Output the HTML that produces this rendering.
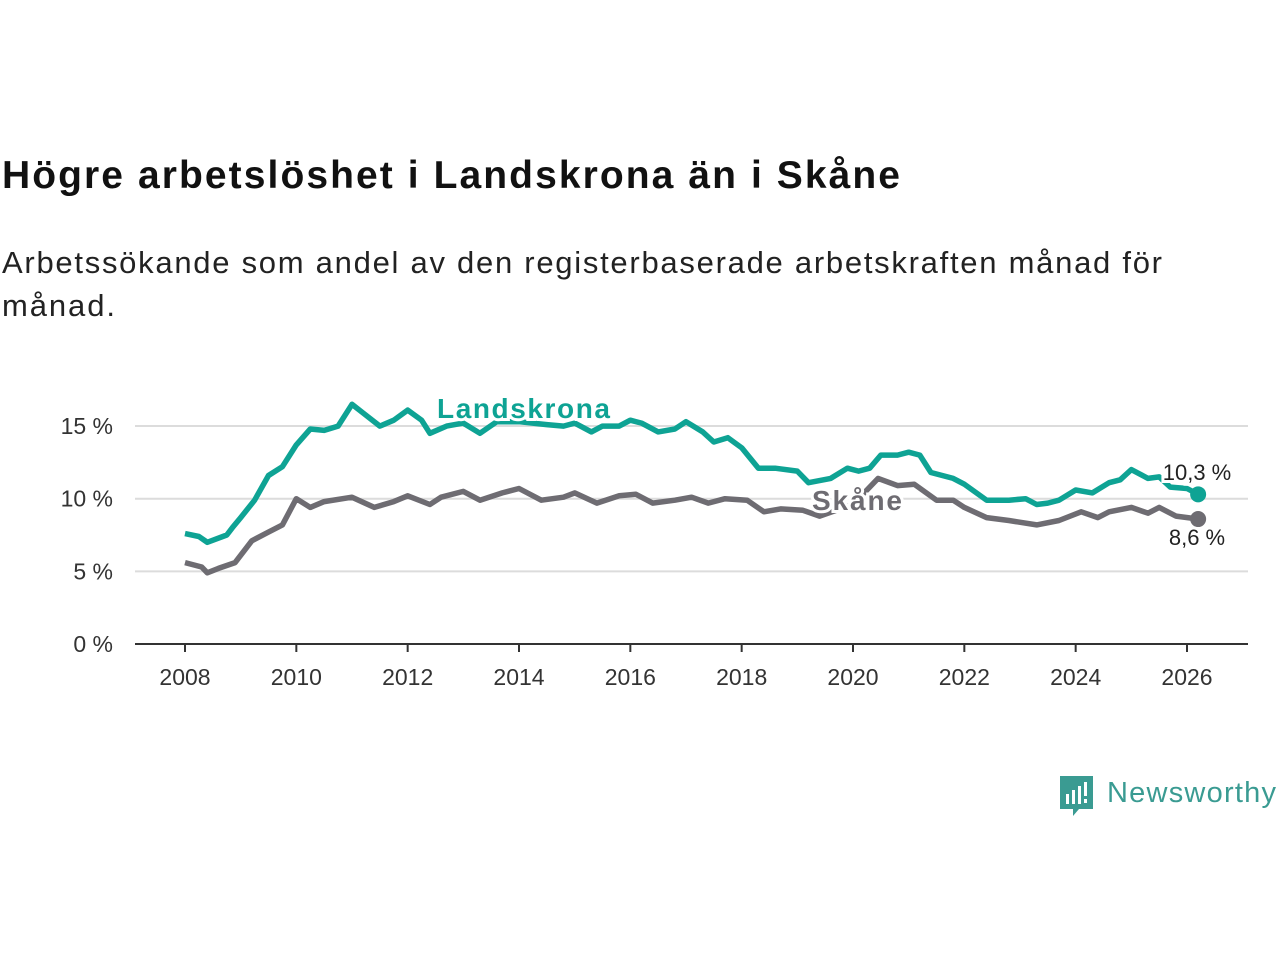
<!DOCTYPE html>
<html><head><meta charset="utf-8"><style>body{margin:0;background:#fff}svg{display:block;font-family:"Liberation Sans",sans-serif}</style></head>
<body>
<svg width="1280" height="960">
<text x="2" y="188" font-size="39" font-weight="bold" fill="#111" textLength="898">Högre arbetslöshet i Landskrona än i Skåne</text>
<text x="2" y="273" font-size="31" fill="#222" textLength="1160">Arbetssökande som andel av den registerbaserade arbetskraften månad för</text>
<text x="2" y="316" font-size="31" fill="#222" textLength="113">månad.</text>
<g id="grid"></g><g id="axis"></g><g id="lines"></g><g id="labels"></g>
<g>
<path d="M1060 776h33v33h-14l-6 7v-7h-13z" fill="#3a9b92"/>
<rect x="1066" y="794" width="3" height="10" fill="#fff"/><rect x="1072" y="790" width="3" height="14" fill="#fff"/><rect x="1078" y="786" width="3" height="18" fill="#fff"/><rect x="1084" y="782" width="3" height="14" fill="#fff"/><rect x="1084" y="799" width="3" height="4" fill="#fff"/>
<text x="1107" y="802" font-size="29" fill="#3a9b92" textLength="169">Newsworthy</text>
</g>
</svg>
<script>
const yTicks=[0,5,10,15];
const xTicks=[2008,2010,2012,2014,2016,2018,2020,2022,2024,2026];
const landT=[2008,2008.25,2008.4,2008.75,2008.85,2009.0,2009.25,2009.5,2009.75,2010.0,2010.25,2010.5,2010.75,2011.0,2011.2,2011.5,2011.75,2012.0,2012.25,2012.4,2012.7,2013.0,2013.3,2013.6,2014.0,2014.5,2014.8,2015.0,2015.3,2015.5,2015.8,2016.0,2016.2,2016.5,2016.8,2017.0,2017.3,2017.5,2017.75,2018.0,2018.3,2018.6,2019.0,2019.2,2019.6,2019.9,2020.1,2020.3,2020.5,2020.8,2021.0,2021.2,2021.4,2021.8,2022.0,2022.4,2022.8,2023.1,2023.3,2023.5,2023.7,2024.0,2024.3,2024.6,2024.8,2025.0,2025.3,2025.5,2025.7,2026.0,2026.2];
const landV=[7.6,7.4,7.0,7.5,8.0,8.7,9.9,11.6,12.2,13.7,14.8,14.7,15.0,16.5,15.9,15.0,15.4,16.1,15.4,14.5,15.0,15.2,14.5,15.3,15.3,15.1,15.0,15.2,14.6,15.0,15.0,15.4,15.2,14.6,14.8,15.3,14.6,13.9,14.2,13.5,12.1,12.1,11.9,11.1,11.4,12.1,11.9,12.1,13.0,13.0,13.2,13.0,11.8,11.4,11.0,9.9,9.9,10.0,9.6,9.7,9.9,10.6,10.4,11.1,11.3,12.0,11.4,11.5,10.8,10.7,10.3];
const skT=[2008,2008.3,2008.4,2008.6,2008.9,2009.2,2009.5,2009.75,2010.0,2010.25,2010.5,2011.0,2011.4,2011.75,2012.0,2012.4,2012.6,2013.0,2013.3,2013.7,2014.0,2014.4,2014.8,2015.0,2015.4,2015.8,2016.1,2016.4,2016.8,2017.1,2017.4,2017.7,2018.1,2018.4,2018.7,2019.1,2019.4,2019.7,2020.0,2020.45,2020.8,2021.1,2021.5,2021.8,2022.0,2022.4,2022.8,2023.3,2023.7,2024.1,2024.4,2024.6,2025.0,2025.3,2025.5,2025.8,2026.2];
const skV=[5.6,5.3,4.9,5.2,5.6,7.1,7.7,8.2,10.0,9.4,9.8,10.1,9.4,9.8,10.2,9.6,10.1,10.5,9.9,10.4,10.7,9.9,10.1,10.4,9.7,10.2,10.3,9.7,9.9,10.1,9.7,10.0,9.9,9.1,9.3,9.2,8.8,9.2,9.6,11.4,10.9,11.0,9.9,9.9,9.4,8.7,8.5,8.2,8.5,9.1,8.7,9.1,9.4,9.0,9.4,8.8,8.6];
const NS='http://www.w3.org/2000/svg';
const X=t=>185+(t-2008)*(1002/18), Y=v=>644-v*14.53;
function mk(tag,attrs,parent,txt){const e=document.createElementNS(NS,tag);for(const k in attrs)e.setAttribute(k,attrs[k]);if(txt!=null)e.textContent=txt;document.getElementById(parent).appendChild(e);return e;}
yTicks.forEach(v=>{
 if(v>0){const g=mk('line',{x1:135,x2:1248,y1:Y(v),y2:Y(v),stroke:'#dcdcdc','stroke-width':2},'grid');
 
 }
 const t=mk('text',{x:113,y:Y(v)+8,'font-size':23,'text-anchor':'end',fill:'#333'},'axis',v+' %');
 
 
});
const ax=mk('line',{x1:135,x2:1248,y1:644,y2:644,stroke:'#333','stroke-width':2},'axis');


xTicks.forEach(t=>{
 mk('line',{x1:X(t),x2:X(t),y1:644,y2:652,stroke:'#333','stroke-width':2},'axis');
 const l=mk('text',{x:X(t),y:685,'font-size':23,'text-anchor':'middle',fill:'#333'},'axis',t);
 
 
});
function line(T,V,c,name){const d=T.map((t,i)=>(i?'L':'M')+X(t).toFixed(1)+' '+Y(V[i]).toFixed(1)).join('');
 const p=mk('path',{d:d,fill:'none',stroke:c,'stroke-width':5.5,'stroke-linejoin':'round'},'lines');
 
 
 const e=mk('circle',{cx:X(T[T.length-1]),cy:Y(V[V.length-1]),r:8,fill:c},'lines');
 
 }
line(skT,skV,'#6e6c72','skane-line');
line(landT,landV,'#0ea394','landskrona-line');
function lab(x,y,txt,c,sz,w,name,anchor,len){const a={x:x,y:y,'font-size':sz,'font-weight':w,fill:c,stroke:'#fff','stroke-width':6,'paint-order':'stroke','text-anchor':anchor||'start'};if(len)a.textLength=len;const t=mk('text',a,'labels',txt);
 
 }
lab(437,418,'Landskrona','#0ea394',28,'bold','landskrona-label','start',173);
lab(812,510,'Skåne','#6e6c72',28,'bold','skane-label','start',90);
lab(1197,480,'10,3 %','#222',22,'normal','landskrona-end-value','middle');
lab(1197,545,'8,6 %','#222',22,'normal','skane-end-value','middle');
</script>
</body></html>
